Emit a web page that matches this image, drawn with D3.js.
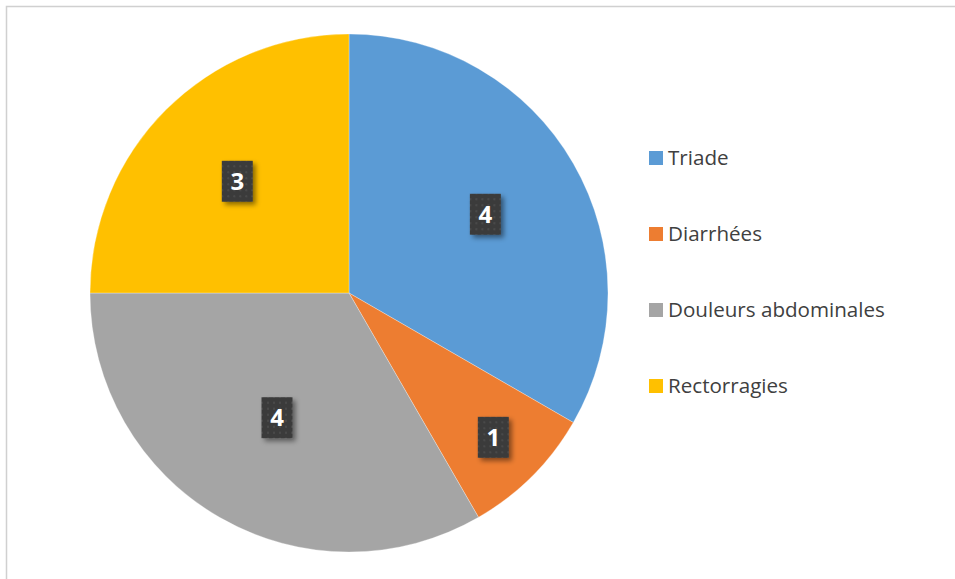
<!DOCTYPE html>
<html><head><meta charset="utf-8">
<script src="https://cdn.jsdelivr.net/npm/d3@7"></script>
<style>html,body{margin:0;padding:0;background:#fff;}svg{display:block;}</style>
</head><body>
<script>
const categories = ["Triade", "Diarrhées", "Douleurs abdominales", "Rectorragies"];
const values = [4, 1, 4, 3];
const colors = ["#5B9BD5", "#ED7D31", "#A5A5A5", "#FFC000"];

const W = 955, H = 579;
const cx = 349, cy = 293, R = 259;
const labelFrac = [0.608, 0.788, 0.556, 0.61];

const svg = d3.select("body").append("svg").attr("width", W).attr("height", H);
const defs = svg.append("defs");
const pat = defs.append("pattern").attr("id","dots").attr("patternUnits","userSpaceOnUse")
  .attr("width",6).attr("height",6);
pat.append("rect").attr("width",6).attr("height",6).attr("fill","#3b3b3b");
pat.append("rect").attr("x",2).attr("y",2).attr("width",2).attr("height",2).attr("fill","#4a4a4a");
const filt = defs.append("filter").attr("id","shadow").attr("x","-50%").attr("y","-50%").attr("width","200%").attr("height","200%");
filt.append("feDropShadow").attr("dx",3).attr("dy",3).attr("stdDeviation",2.5).attr("flood-color","#000").attr("flood-opacity",0.45);

svg.append("path").attr("d", `M6.5,${H} L6.5,6.5 L${W},6.5`).attr("fill","none").attr("stroke","#d0d0d0").attr("stroke-width",1.5);

const pie = d3.pie().sort(null).value(d => d)(values);
const arc = d3.arc().innerRadius(0).outerRadius(R);
const g = svg.append("g").attr("transform", `translate(${cx},${cy})`);
g.selectAll("path.slice").data(pie).join("path").attr("class","slice")
  .attr("d", arc).attr("fill", (d,i) => colors[i]).attr("stroke","#fff").attr("stroke-width",0.3);

const bw = 31, bh = 41;
const lab = g.selectAll("g.lab").data(pie).join("g").attr("class","lab")
  .attr("transform", (d,i) => {
    const a = (d.startAngle + d.endAngle)/2, r = R*labelFrac[i];
    return `translate(${r*Math.sin(a)},${-r*Math.cos(a)})`;
  });
lab.append("rect").attr("x",-bw/2).attr("y",-bh/2).attr("width",bw).attr("height",bh)
  .attr("fill","url(#dots)").attr("filter","url(#shadow)");
lab.append("text").text(d => d.data).attr("text-anchor","middle").attr("dy","0.36em")
  .attr("fill","#fff").attr("font-family","'Open Sans', sans-serif").attr("font-weight","bold").attr("font-size",24);

const leg = svg.append("g");
const rows = leg.selectAll("g").data(categories).join("g")
  .attr("transform", (d,i) => `translate(649,${158 + i*76})`);
rows.append("rect").attr("x",0).attr("y",-7).attr("width",14).attr("height",14).attr("fill",(d,i)=>colors[i]);
rows.append("text").text(d=>d).attr("x",19).attr("dy","0.35em")
  .attr("fill","#404040").attr("font-family","'Open Sans', sans-serif").attr("font-size",20.6);
</script>
</body></html>
